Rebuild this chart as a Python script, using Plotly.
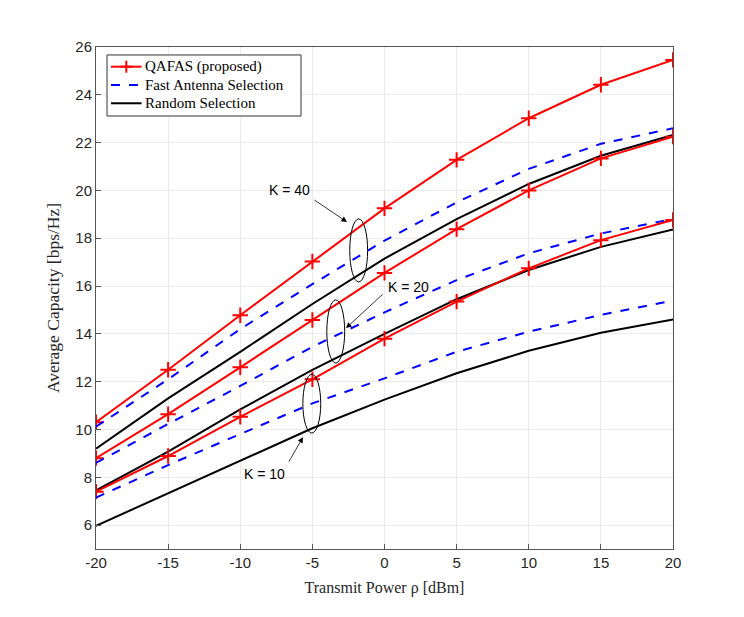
import plotly.graph_objects as go

power_dbm = [-20, -15, -10, -5, 0, 5, 10, 15, 20]
power_labels = ["-20", "-15", "-10", "-5", "0", "5", "10", "15", "20"]

# K = 40
qafas_k40 = [10.3, 12.5, 14.78, 17.03, 19.25, 21.28, 23.02, 24.42, 25.46]
fast_k40 = [10.12, 12.1, 14.2, 16.08, 17.9, 19.5, 20.9, 21.95, 22.6]
random_k40 = [9.2, 11.3, 13.25, 15.25, 17.15, 18.8, 20.27, 21.45, 22.32]
# K = 20
qafas_k20 = [8.8, 10.64, 12.6, 14.58, 16.55, 18.38, 20.0, 21.34, 22.25]
fast_k20 = [8.6, 10.23, 11.82, 13.46, 14.9, 16.25, 17.37, 18.2, 18.8]
random_k20 = [7.45, 9.07, 10.84, 12.49, 14.0, 15.45, 16.67, 17.64, 18.37]
# K = 10
qafas_k10 = [7.4, 8.89, 10.53, 12.1, 13.8, 15.35, 16.74, 17.92, 18.76]
fast_k10 = [7.15, 8.51, 9.81, 11.09, 12.14, 13.25, 14.09, 14.79, 15.39]
random_k10 = [5.97, 7.33, 8.72, 10.05, 11.25, 12.35, 13.29, 14.05, 14.6]

legend_names = ["QAFAS (proposed)", "Fast Antenna Selection", "Random Selection"]

serif = "Liberation Serif"
sans = "Liberation Sans"
RED, BLUE, BLACK = "#ff0000", "#0000ff", "#000000"

fig = go.Figure()

groups = [
    (qafas_k40, fast_k40, random_k40),
    (qafas_k20, fast_k20, random_k20),
    (qafas_k10, fast_k10, random_k10),
]

for q, f, r in groups:
    fig.add_trace(go.Scatter(
        x=power_dbm, y=q, mode="lines+markers", name=legend_names[0],
        line=dict(color=RED, width=2),
        marker=dict(symbol="cross-thin", size=11, line=dict(color=RED, width=2)),
    ))
    fig.add_trace(go.Scatter(
        x=power_dbm, y=f, mode="lines", name=legend_names[1],
        line=dict(color=BLUE, width=2, dash="dash"),
    ))
    fig.add_trace(go.Scatter(
        x=power_dbm, y=r, mode="lines", name=legend_names[2],
        line=dict(color=BLACK, width=2),
    ))

# ellipses around the groups
for cx, cy, rx, ry in [(-1.79, 17.49, 0.62, 1.32), (-3.38, 14.1, 0.62, 1.32), (-5.04, 11.08, 0.62, 1.23)]:
    fig.add_shape(type="circle", xref="x", yref="y",
                  x0=cx - rx, x1=cx + rx, y0=cy - ry, y1=cy + ry,
                  line=dict(color="black", width=1))

labels = [
    ("K = 40", -6.59, 20.0, -4.96, 19.64, -2.6, 18.68),
    ("K = 20", 1.63, 15.96, -0.03, 15.71, -2.67, 14.24),
    ("K = 10", -8.35, 8.13, -6.69, 8.59, -5.65, 9.68),
]
for txt, tx, ty, ax, ay, hx, hy in labels:
    fig.add_annotation(x=tx, y=ty, text=txt, showarrow=False,
                       font=dict(family=sans, size=14, color="black"))
    fig.add_annotation(x=hx, y=hy, ax=ax, ay=ay, axref="x", ayref="y",
                       text="", showarrow=True, arrowhead=2, arrowsize=1.4,
                       arrowwidth=0.8, arrowcolor="black")

# legend box drawn by hand (MATLAB-like compact layout)
fig.add_shape(type="rect", xref="paper", yref="paper",
              x0=0.0191, x1=0.3553, y0=0.8625, y1=0.9841,
              line=dict(color="#333333", width=1), fillcolor="white", layer="above")
rows_y = [0.9608, 0.9243, 0.8879]
styles = [(RED, "solid"), (BLUE, "dash"), (BLACK, "solid")]
for name, yy, (col, dash) in zip(legend_names, rows_y, styles):
    fig.add_shape(type="line", xref="paper", yref="paper",
                  x0=0.026, x1=0.079, y0=yy, y1=yy,
                  line=dict(color=col, width=2, dash=dash), layer="above")
    fig.add_annotation(xref="paper", yref="paper", x=0.082, y=yy, text=name,
                       showarrow=False, xanchor="left", yanchor="middle",
                       font=dict(family=serif, size=15, color="black"))
# the '+' marker of the first entry
mx, my = 0.0525, rows_y[0]
fig.add_shape(type="line", xref="paper", yref="paper", x0=mx - 0.0104, x1=mx + 0.0104,
              y0=my, y1=my, line=dict(color=RED, width=2), layer="above")
fig.add_shape(type="line", xref="paper", yref="paper", x0=mx, x1=mx,
              y0=my - 0.012, y1=my + 0.012, line=dict(color=RED, width=2), layer="above")

axis_common = dict(
    showgrid=True, gridcolor="#ebebeb", gridwidth=1,
    showline=True, linecolor="#555555", linewidth=1, mirror=True,
    ticks="inside", ticklen=5, tickcolor="#555555",
    tickfont=dict(family=sans, size=15, color="#262626"),
    zeroline=False,
)

fig.update_xaxes(
    range=[-20, 20], tickvals=power_dbm, ticktext=power_labels,
    title=dict(text="Transmit Power ρ [dBm]", font=dict(family=serif, size=16, color="#262626"), standoff=11),
    **axis_common,
)
fig.update_yaxes(
    range=[5, 26], tickvals=list(range(6, 27, 2)),
    title=dict(text="Average Capacity [bps/Hz]", font=dict(family=serif, size=17.5, color="#262626"), standoff=11),
    **axis_common,
)

fig.update_layout(
    width=736, height=609,
    margin=dict(l=88, r=71, t=39, b=68),
    paper_bgcolor="white", plot_bgcolor="white",
    showlegend=False,
)

fig.write_html("out.html")
